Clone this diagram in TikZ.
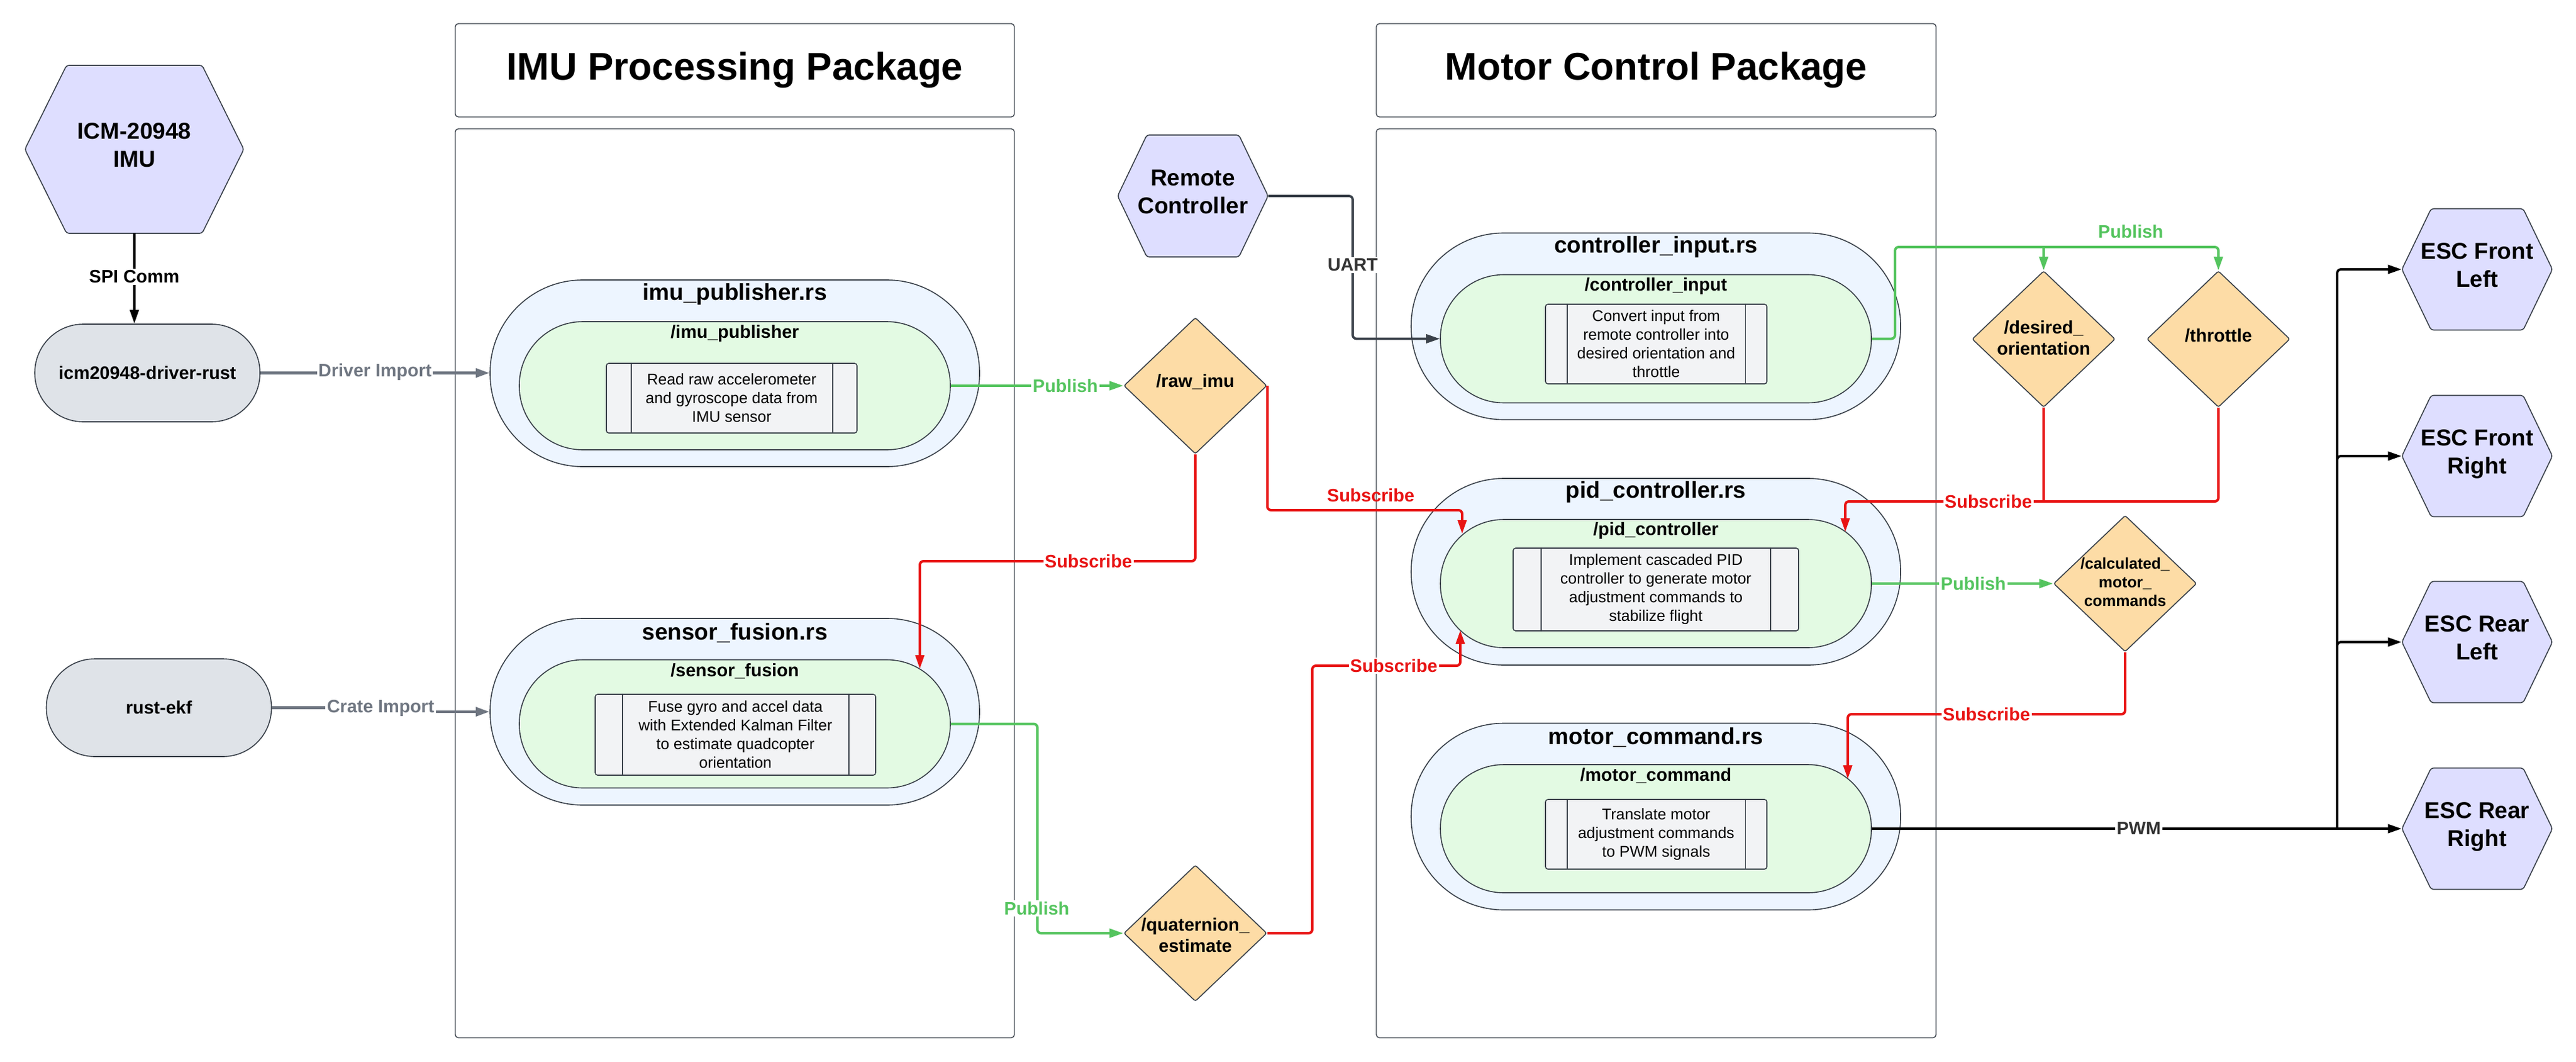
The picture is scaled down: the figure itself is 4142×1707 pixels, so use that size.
\documentclass[tikz,border=0pt]{standalone}
\usepackage{fontspec}
\setmainfont{Liberation Sans}
\usetikzlibrary{shapes.geometric,arrows.meta}
\definecolor{strk}{HTML}{3A414A}
\definecolor{hexfill}{HTML}{DEDEFF}
\definecolor{grayfill}{HTML}{DFE3E8}
\definecolor{outerfill}{HTML}{EDF5FF}
\definecolor{innerfill}{HTML}{E3FAE3}
\definecolor{procfill}{HTML}{F2F3F5}
\definecolor{diafill}{HTML}{FDDCA6}
\definecolor{pubgreen}{HTML}{54C45E}
\definecolor{subred}{HTML}{E81313}
\definecolor{impgray}{HTML}{6F7681}
\definecolor{darktext}{HTML}{333333}
\newcommand{\drawhex}[5]{\path[hexshape] (#1-#3,#2) -- (#1-#3+#5,#2-#4) -- (#1+#3-#5,#2-#4) -- (#1+#3,#2) -- (#1+#3-#5,#2+#4) -- (#1-#3+#5,#2+#4) -- cycle;}
\newcommand{\lowfix}{\rule[-7pt]{0pt}{1pt}}
\tikzset{
  hexshape/.style={draw=strk, line width=0.8pt, fill=hexfill, rounded corners=2pt},
  hexnode/.style={rectangle, inner sep=0pt, align=center, font=\fontsize{18.5}{22.5}\selectfont\bfseries},
  libbox/.style={rectangle, draw=strk, line width=0.8pt, fill=grayfill, rounded corners=39pt, minimum width=181pt, minimum height=78.5pt, font=\fontsize{14.5}{17}\selectfont\bfseries},
  pkg/.style={rectangle, draw=strk, line width=0.7pt, rounded corners=2.5pt, inner sep=0pt},
  pkgtitle/.style={pkg, font=\fontsize{31}{37}\selectfont\bfseries, minimum height=75pt},
  outerst/.style={rectangle, draw=strk, line width=0.8pt, fill=outerfill, rounded corners=74.5pt, minimum width=393.5pt, minimum height=150pt, inner sep=0pt},
  innerst/.style={rectangle, draw=strk, line width=0.8pt, fill=innerfill, rounded corners=51pt, minimum width=346.5pt, minimum height=103pt, inner sep=0pt},
  sttitle/.style={inner sep=0pt, font=\fontsize{18.5}{22}\selectfont\bfseries},
  intitle/.style={inner sep=0pt, font=\fontsize{14.5}{17}\selectfont\bfseries},
  proc/.style={rectangle, draw=strk, line width=0.8pt, fill=procfill, rounded corners=2pt, inner sep=0pt, align=center, font=\fontsize{12.5}{15}\selectfont},
  procline/.style={draw=strk, line width=0.8pt},
  dia/.style={diamond, draw=strk, line width=0.8pt, fill=diafill, minimum width=115pt, minimum height=109.5pt, inner sep=0pt, rounded corners=1.5pt},
  diatext/.style={inner sep=0pt, align=center, font=\fontsize{14.5}{17}\selectfont\bfseries},
  calctext/.style={inner sep=0pt, align=center, font=\fontsize{12.5}{15}\selectfont\bfseries},
  tip/.style={-{Triangle[length=11pt,width=7pt]}},
  publine/.style={draw=pubgreen, line width=2pt, rounded corners=3pt},
  pub/.style={publine, tip},
  subline/.style={draw=subred, line width=2pt, rounded corners=3pt},
  sub/.style={subline, tip},
  imp/.style={draw=impgray, line width=2.4pt, tip},
  blkline/.style={draw=black, line width=1.9pt, rounded corners=3pt},
  blk/.style={blkline, tip},
  uart/.style={draw=strk, line width=1.9pt, rounded corners=3pt, tip},
  elab/.style={fill=white, inner sep=1.2pt, font=\fontsize{14.5}{17}\selectfont\bfseries},
  elabnf/.style={inner sep=1.2pt, font=\fontsize{14.5}{17}\selectfont\bfseries}
}
\begin{document}
\begin{tikzpicture}[x=0.5pt,y=-0.5pt]
\useasboundingbox[fill=white] (0,0) rectangle (4142,1707);

% ---------- packages ----------
\node[pkgtitle, minimum width=449.5pt] (imutitle) at (1181.5,113) {IMU Processing Package};
\node[pkg, minimum width=449.5pt, minimum height=730.5pt] (imubody) at (1181.5,937.5) {};
\node[pkgtitle, minimum width=450pt] (mottitle) at (2663,113) {Motor Control Package};
\node[pkg, minimum width=450pt, minimum height=730.5pt] (motbody) at (2663,937.5) {};

% ---------- hexagons ----------
\drawhex{216}{240}{176}{135}{67}
\node[hexnode, minimum width=176pt, minimum height=135pt] (icm) at (216,240) {ICM-20948\\IMU\lowfix};
\drawhex{1918}{315}{121}{98}{47}
\node[hexnode, minimum width=121pt, minimum height=98pt] (remote) at (1918,315) {Remote\\Controller\lowfix};
\drawhex{3983}{433}{121}{97.5}{47}
\node[hexnode, minimum width=121pt, minimum height=97.5pt] (escFL) at (3983,433) {ESC Front\\Left\lowfix};
\drawhex{3983}{733}{121}{97.5}{47}
\node[hexnode, minimum width=121pt, minimum height=97.5pt] (escFR) at (3983,733) {ESC Front\\Right\lowfix};
\drawhex{3983}{1032}{121}{97.5}{47}
\node[hexnode, minimum width=121pt, minimum height=97.5pt] (escRL) at (3983,1032) {ESC Rear\\Left\lowfix};
\drawhex{3983}{1332}{121}{97.5}{47}
\node[hexnode, minimum width=121pt, minimum height=97.5pt] (escRR) at (3983,1332) {ESC Rear\\Right\lowfix};

% ---------- libraries ----------
\node[libbox] (driver) at (237,599.5) {icm20948-driver-rust};
\node[libbox] (ekf) at (255.5,1137.5) {rust-ekf};

% ---------- imu_publisher ----------
\node[outerst] (imuout) at (1181.5,600) {};
\node[innerst] (imuin) at (1181.5,620) {};
\node[sttitle] (imuoutt) at (1181.5,473) {imu\_publisher.rs};
\node[intitle] (imuint) at (1181.5,536) {/imu\_publisher};
\node[proc, minimum width=201.5pt, minimum height=56pt] (pimu) at (1176.5,640) {Read raw accelerometer\\and gyroscope data from\\IMU sensor};
\draw[procline] ([xshift=20.5pt]pimu.north west) -- ([xshift=20.5pt]pimu.south west);
\draw[procline] ([xshift=-20pt]pimu.north east) -- ([xshift=-20pt]pimu.south east);

% ---------- sensor_fusion ----------
\node[outerst] (sfout) at (1181.5,1144) {};
\node[innerst] (sfin) at (1181.5,1163.5) {};
\node[sttitle] (sfoutt) at (1181.5,1017) {sensor\_fusion.rs};
\node[intitle] (sfint) at (1181.5,1079) {/sensor\_fusion};
\node[proc, minimum width=225.5pt, minimum height=65pt] (psf) at (1182.5,1181) {Fuse gyro and accel data\\with Extended Kalman Filter\\to estimate quadcopter\\orientation};
\draw[procline] ([xshift=22.5pt]psf.north west) -- ([xshift=22.5pt]psf.south west);
\draw[procline] ([xshift=-22pt]psf.north east) -- ([xshift=-22pt]psf.south east);

% ---------- controller_input ----------
\node[outerst] (cinout) at (2662.5,524.5) {};
\node[innerst] (cinin) at (2662.5,544.5) {};
\node[sttitle] (cinoutt) at (2662.5,397) {controller\_input.rs};
\node[intitle] (cinint) at (2662.5,460) {/controller\_input};
\node[proc, minimum width=178pt, minimum height=64pt] (pcin) at (2663,553) {Convert input from\\remote controller into\\desired orientation and\\throttle};
\draw[procline] ([xshift=17.75pt]pcin.north west) -- ([xshift=17.75pt]pcin.south west);
\draw[procline] ([xshift=-17.75pt]pcin.north east) -- ([xshift=-17.75pt]pcin.south east);

% ---------- pid_controller ----------
\node[outerst] (pidout) at (2662.5,919) {};
\node[innerst] (pidin) at (2662.5,938) {};
\node[sttitle] (pidoutt) at (2662.5,791) {pid\_controller.rs};
\node[intitle] (pidint) at (2662.5,853) {/pid\_controller};
\node[proc, minimum width=229.5pt, minimum height=66.5pt] (ppid) at (2662.5,947.5) {Implement cascaded PID\\controller to generate motor\\adjustment commands to\\stabilize flight};
\draw[procline] ([xshift=23pt]ppid.north west) -- ([xshift=23pt]ppid.south west);
\draw[procline] ([xshift=-23pt]ppid.north east) -- ([xshift=-23pt]ppid.south east);

% ---------- motor_command ----------
\node[outerst] (mcout) at (2662.5,1312.5) {};
\node[innerst] (mcin) at (2662.5,1332) {};
\node[sttitle] (mcoutt) at (2662.5,1185) {motor\_command.rs};
\node[intitle] (mcint) at (2662.5,1247) {/motor\_command};
\node[proc, minimum width=178pt, minimum height=56pt] (pmc) at (2663,1341) {Translate motor\\adjustment commands\\to PWM signals};
\draw[procline] ([xshift=17.75pt]pmc.north west) -- ([xshift=17.75pt]pmc.south west);
\draw[procline] ([xshift=-17.75pt]pmc.north east) -- ([xshift=-17.75pt]pmc.south east);

% ---------- topics ----------
\node[dia] (raw) at (1922,620) {};
\node[diatext] (rawt) at (1922,614) {/raw\_imu};
\node[dia] (quat) at (1922,1500) {};
\node[diatext] (quatt) at (1922,1503) {/quaternion\_\\estimate};
\node[dia] (des) at (3286,545) {};
\node[diatext] (dest) at (3286,543) {/desired\_\\orientation};
\node[dia] (thr) at (3567,545) {};
\node[diatext] (thrt) at (3567,539) {/throttle};
\node[dia] (calc) at (3417,938) {};
\node[calctext] (calct) at (3417,936) {/calculated\_\\motor\_\\commands};

% ---------- end points on stadium borders ----------
\coordinate (sfA) at (1479,1075);
\coordinate (pidA) at (2351,858);
\coordinate (pidB) at (2348,1013);
\coordinate (pidC) at (2967,855);
\coordinate (mcA) at (2971,1252);
\coordinate (bus) at (3758,1332);

% ---------- connectors ----------
\draw[blk] (icm.south) -- (icm.south |- driver.north);
\draw[imp] (driver.east) -- (driver.east -| imuout.west);
\draw[imp] (ekf.east) -- (612,1137.5) |- (sfout.west);
\draw[pub] (imuin.east) -- (raw.west);
\draw[sub] (raw.south) |- (1479,902) -- (sfA);
\draw[pub] (sfin.east) -| (1668,1500) -- (quat.west);
\draw[sub] (raw.east) |- (2351,820) -- (pidA);
\draw[sub] (quat.east) -| (2110,1070) -| (pidB);
\draw[uart] (remote.east) -| (2175,544.5) -- (cinin.west);
\draw[pub] (cinin.east) -| (3047,397) -| (thr.north);
\draw[pub] (des.north |- 0,397) -- (des.north);
\draw[subline] (des.south) -- (des.south |- 0,806);
\draw[sub] (thr.south) |- (2967,806) -- (pidC);
\draw[pub] (pidin.east) -- (calc.west);
\draw[sub] (calc.south) |- (2971,1148) -- (mcA);
\draw[blkline] (mcin.east) -- (bus);
\draw[blk] (bus) -- (escRR.west);
\draw[blk] (bus) |- (escRL.west);
\draw[blk] (bus) |- (escFR.west);
\draw[blk] (bus) |- (escFL.west);

% ---------- connector labels ----------
\node[elab, text=black] (lspi) at (216,445) {SPI Comm};
\node[elab, text=impgray] (ldrv) at (603,598) {Driver Import};
\node[elab, text=impgray] (lcrate) at (612,1138) {Crate Import};
\node[elab, text=pubgreen] (lpub1) at (1713,620) {Publish};
\node[elab, text=subred] (lsub1) at (1750,902) {Subscribe};
\node[elab, text=pubgreen] (lpub2) at (1667,1460) {Publish};
\node[elabnf, text=subred] (lsub2) at (2204,796) {Subscribe};
\node[elab, text=subred] (lsub3) at (2241,1070) {Subscribe};
\node[elab, text=darktext] (luart) at (2175,426) {UART};
\node[elabnf, text=pubgreen] (lpub3) at (3426,372) {Publish};
\node[elab, text=subred] (lsub4) at (3197,806) {Subscribe};
\node[elab, text=pubgreen] (lpub4) at (3173,938) {Publish};
\node[elab, text=subred] (lsub5) at (3194,1148) {Subscribe};
\node[elab, text=darktext] (lpwm) at (3439,1332) {PWM};
\end{tikzpicture}
\end{document}
